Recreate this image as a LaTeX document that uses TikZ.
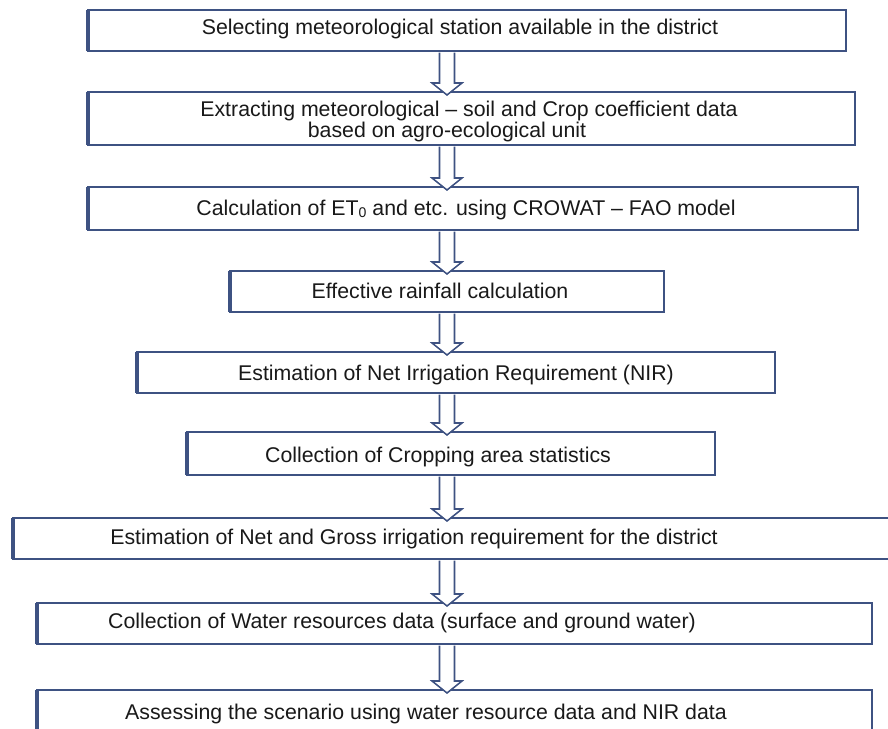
\documentclass[tikz,border=0pt]{standalone}
\usepackage{fontspec}
\setmainfont{Liberation Sans}
\usetikzlibrary{calc}
\definecolor{edgeblue}{RGB}{62,82,130}
\definecolor{ink}{RGB}{25,25,25}
\tikzset{
  flowbox/.style={draw=edgeblue, fill=white, line width=1.4pt, inner sep=0pt, outer sep=0pt},
  boxedge/.style={draw=edgeblue, line width=2.1pt},
  txt/.style={text=ink, font=\fontsize{15.15}{16}\selectfont, anchor=base, inner sep=0pt},
  flowarr/.style={draw=edgeblue, fill=white, line width=1.1pt, line join=miter},
}
\newcommand\mkbox[5]{%
  \node[flowbox, minimum width={(#4-#2)*0.025cm}, minimum height={(#5-#3)*0.025cm}] (#1) at ({(#2+#4)/2},{(#3+#5)/2}) {};
  \draw[boxedge, line width=2.8pt] (#1.north west) -- (#1.south west);
  \draw[boxedge] (#1.south west) -- (#1.south east) -- (#1.north east);
}
\newcommand\mkarrow[2]{%
  \draw[flowarr] let \p1=(#1.south -| axis), \p2=(#2.north -| axis) in
    (\x1-0.1875cm,\y1-1.2pt) -- (\x1-0.1875cm,\y2+0.225cm) -- (\x1-0.375cm,\y2+0.225cm)
    -- (\x1,\y2-0.075cm) -- (\x1+0.375cm,\y2+0.225cm) -- (\x1+0.1875cm,\y2+0.225cm)
    -- (\x1+0.1875cm,\y1-1.2pt);
}
\begin{document}
\begin{tikzpicture}[x=0.025cm, y=-0.025cm]
\useasboundingbox (0,0) rectangle (888,729);
\fill[white] (0,0) rectangle (888,729);
\coordinate (axis) at (447,0);
\mkbox{b1}{88}{10}{846}{51}
\mkbox{b2}{88}{92}{855}{145}
\mkbox{b3}{88}{187}{858}{230}
\mkbox{b4}{230}{271}{664}{312}
\mkbox{b5}{137}{352}{775}{393}
\mkbox{b6}{187}{432}{715}{475}
\mkbox{b7}{13}{518}{890}{559}
\mkbox{b8}{37}{603}{872}{644}
\mkbox{b9}{37}{690}{872}{745}
\mkarrow{b1}{b2}
\mkarrow{b2}{b3}
\mkarrow{b3}{b4}
\mkarrow{b4}{b5}
\mkarrow{b5}{b6}
\mkarrow{b6}{b7}
\mkarrow{b7}{b8}
\mkarrow{b8}{b9}
\node[txt] (t1) at (460,35) {Selecting meteorological station available in the district};
\node[txt] (t2a) at (469,116) {Extracting meteorological – soil and Crop coefficient data};
\node[txt] (t2b) at (447,137) {based on agro-ecological unit};
\node[txt] (t3) at (466,215) {Calculation of ET{\fontsize{10}{10}\selectfont\raisebox{-1.5pt}{0}} and etc. using CROWAT – FAO model};
\node[txt] (t4) at (440,298) {Effective rainfall calculation};
\node[txt] (t5) at (456,380) {Estimation of Net Irrigation Requirement (NIR)};
\node[txt] (t6) at (438,462) {Collection of Cropping area statistics};
\node[txt] (t7) at (414,544) {Estimation of Net and Gross irrigation requirement for the district};
\node[txt] (t8) at (402,628) {Collection of Water resources data (surface and ground water)};
\node[txt] (t9) at (426,719) {Assessing the scenario using water resource data and NIR data};
\end{tikzpicture}
\end{document}
